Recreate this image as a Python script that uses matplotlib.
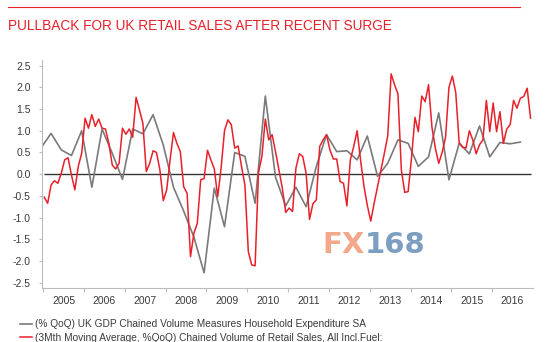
import numpy as np
import matplotlib.pyplot as plt
from matplotlib.lines import Line2D

plt.rcParams['font.family'] = ['Liberation Sans', 'DejaVu Sans']
plt.rcParams['axes.unicode_minus'] = False

title = 'PULLBACK FOR UK RETAIL SALES AFTER RECENT SURGE'
label_gdp = '(% QoQ) UK GDP Chained Volume Measures Household Expenditure SA'
label_retail = '(3Mth Moving Average, %QoQ) Chained Volume of Retail Sales, All Incl.Fuel:'
years = list(range(2005, 2017))
yticks = [-2.5, -2.0, -1.5, -1.0, -0.5, 0.0, 0.5, 1.0, 1.5, 2.0, 2.5]

# monthly retail sales, Jan 2005 .. Dec 2016
retail = [
    -0.53, -0.67, -0.25, -0.15, -0.21, 0.02, 0.33, 0.38, -0.02, -0.36, 0.18, 0.48,
    1.29, 1.06, 1.37, 1.10, 1.27, 1.06, 1.04, 0.71, 0.21, 0.12, 0.25, 1.06,
    0.92, 1.04, 0.85, 1.77, 1.48, 1.17, 0.06, 0.25, 0.54, 0.50, 0.10, -0.61,
    -0.36, 0.33, 0.96, 0.71, 0.52, -0.29, -0.44, -1.90, -1.36, -1.13, -0.13, -0.10,
    0.55, 0.33, 0.12, -0.52, 0.14, 1.00, 1.25, 1.14, 0.60, 0.65, 0.18, -0.25,
    -1.78, -2.09, -2.11, 0.04, 0.41, 1.27, 0.79, 0.91, 0.52, 0.10, -0.32, -0.88,
    -0.78, -0.86, 0.14, 0.47, 0.41, 0.02, -1.04, -0.68, -0.59, 0.64, 0.79, 0.91,
    0.56, 0.35, 0.35, -0.17, -0.21, -0.73, 0.33, 0.64, 1.00, 0.33, -0.27, -0.72,
    -1.08, -0.67, -0.29, 0.10, 0.48, 0.88, 2.31, 2.06, 1.85, 0.10, -0.42, -0.40,
    0.38, 1.31, 0.98, 1.80, 1.67, 2.06, 1.08, 0.60, 0.25, 0.50, 0.85, 2.00,
    2.26, 1.88, 0.73, 0.62, 0.60, 1.00, 0.79, 0.47, 0.68, 0.79, 1.70, 0.98,
    1.64, 0.98, 1.44, 0.71, 1.04, 1.14, 1.70, 1.52, 1.75, 1.79, 1.98, 1.29,
]

# quarterly household expenditure, Q4 2004 .. Q3 2016 (plotted at quarter-end month)
gdp = [
    0.60, 0.94, 0.56, 0.43, 1.00, -0.30, 1.04, 0.48, -0.12,
    1.04, 0.93, 1.37, 0.67, -0.30, -0.85, -1.45, -2.27,
    -0.32, -1.21, 0.50, 0.41, -0.67, 1.80, -0.07, -0.73,
    -0.30, -0.75, 0.18, 0.91, 0.52, 0.54, 0.33, 0.88,
    -0.05, 0.25, 0.79, 0.71, 0.18, 0.40, 1.41, -0.13,
    0.71, 0.47, 1.11, 0.40, 0.73, 0.70, 0.74,
]

red = '#e8202a'
grey = '#7a7a7a'
axis_grey = '#bdbdbd'
text_col = '#3a3a3a'

m_retail = np.arange(len(retail))
m_gdp = np.arange(len(gdp)) * 3 - 1
x_retail = 2005 + (m_retail + 0.3) / 12
x_gdp = 2005 + (m_gdp + 0.3) / 12

fig = plt.figure(figsize=(5.5, 3.42), dpi=100)
ax = fig.add_axes([0.0758, 0.158, 0.8932, 0.6666])

ax.hlines(0, x_retail[0], x_retail[-1], color='#333333', lw=1.0, zorder=1)
l_gdp, = ax.plot(x_gdp, gdp, color=grey, lw=1.2, zorder=2)
l_ret, = ax.plot(x_retail, retail, color=red, lw=1.1, zorder=3)

ax.set_xlim(2004.962, 2017.0)
ax.set_ylim(-2.62, 2.63)

ax.set_yticks(yticks)
ax.set_yticklabels(['%.1f' % v for v in yticks])
ax.set_xticks(years)
ax.set_xticklabels([])
ax.set_xticks([y + 0.5 for y in years], minor=True)
ax.set_xticklabels([str(y) for y in years], minor=True)

ax.tick_params(axis='y', length=2.5, width=0.8, color=axis_grey, labelsize=7.5,
               labelcolor=text_col, pad=5.5)
ax.tick_params(axis='x', which='major', length=3, width=0.8, color=axis_grey)
ax.tick_params(axis='x', which='minor', length=0, labelsize=7.5,
               labelcolor=text_col, pad=6.0)

for side in ['top', 'right']:
    ax.spines[side].set_visible(False)
for side in ['left', 'bottom']:
    ax.spines[side].set_color(axis_grey)
    ax.spines[side].set_linewidth(0.8)

# watermark
ax.text(0.658, 0.19, 'FX', transform=ax.transAxes, fontsize=21, fontweight='bold',
        color='#f3a88a', ha='right', va='center', family='DejaVu Sans')
ax.text(0.658, 0.19, '168', transform=ax.transAxes, fontsize=21, fontweight='bold',
        color='#7c9fc1', ha='left', va='center', family='DejaVu Sans')

# header
fig.add_artist(Line2D([8 / 550, 520 / 550], [1 - 6.7 / 342, 1 - 6.7 / 342],
                      color=red, lw=0.8))
fig.text(8 / 550, 1 - 26 / 342, title, color=red, fontsize=9.8,
         ha='left', va='center')

fig.legend([l_gdp, l_ret], [label_gdp, label_retail], loc='upper left',
           bbox_to_anchor=(0.036, 0.067), frameon=False, fontsize=7.3,
           handlelength=1.2, handletextpad=0.25, labelspacing=0.35,
           borderaxespad=0, borderpad=0, labelcolor=text_col)

fig.savefig('out.png', dpi=100)
